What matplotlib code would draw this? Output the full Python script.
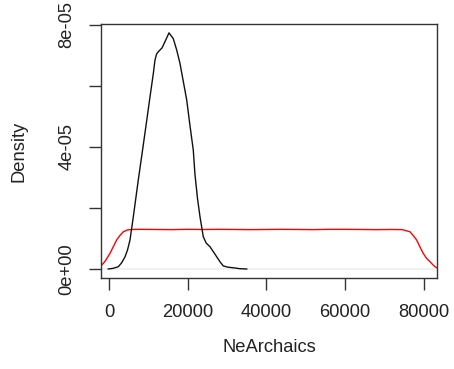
import matplotlib
matplotlib.use("Agg")
import matplotlib.pyplot as plt

# Black density curve (posterior)
black_x = [-180, 1000, 2370, 3200, 4070, 4700, 5340, 6180, 7450, 8720, 9580, 10420,
           11260, 11690, 12100, 12530, 13500, 14400, 15250, 16340, 17200, 18040, 19750,
           20580, 21420, 21850, 22500, 23130, 23960, 24700, 25660, 26500, 27370, 28300,
           29050, 30200, 31590, 33300, 35000]
black_y = [0.0, 0.02e-5, 0.075e-5, 0.2e-5, 0.4e-5, 0.62e-5, 0.95e-5, 1.71e-5, 2.92e-5,
           4.07e-5, 4.86e-5, 5.64e-5, 6.4e-5, 6.85e-5, 7.05e-5, 7.12e-5, 7.25e-5, 7.5e-5,
           7.74e-5, 7.55e-5, 7.18e-5, 6.74e-5, 5.54e-5, 4.7e-5, 3.9e-5, 3.1e-5, 2.3e-5,
           1.71e-5, 1.06e-5, 0.85e-5, 0.73e-5, 0.57e-5, 0.4e-5, 0.22e-5, 0.1e-5, 0.06e-5,
           0.04e-5, 0.01e-5, 0.0]

# Red density curve (prior)
red_x = [-2030, -1000, 250, 1100, 1950, 2800, 3640, 4700, 5770, 8000, 12000, 16000,
         20000, 24000, 28000, 32000, 36000, 40000, 44000, 48000, 52000, 56000, 60000,
         64000, 68000, 72000, 74500, 76490, 77300, 78190, 79000, 79870, 80700, 81570,
         82300, 82840, 83350]
red_y = [0.1e-5, 0.25e-5, 0.51e-5, 0.73e-5, 0.95e-5, 1.1e-5, 1.22e-5, 1.28e-5, 1.295e-5,
         1.3e-5, 1.295e-5, 1.29e-5, 1.3e-5, 1.295e-5, 1.3e-5, 1.295e-5, 1.29e-5, 1.295e-5,
         1.3e-5, 1.295e-5, 1.29e-5, 1.3e-5, 1.3e-5, 1.295e-5, 1.29e-5, 1.295e-5, 1.29e-5,
         1.22e-5, 1.1e-5, 0.95e-5, 0.73e-5, 0.51e-5, 0.35e-5, 0.24e-5, 0.14e-5, 0.075e-5,
         0.04e-5]

x_ticks = [0, 20000, 40000, 60000, 80000]
x_tick_labels = ["0", "20000", "40000", "60000", "80000"]
y_ticks = [0, 2e-5, 4e-5, 6e-5, 8e-5]
y_tick_labels = ["0e+00", "", "4e-05", "", "8e-05"]

plt.rcParams["font.family"] = ["Liberation Sans", "DejaVu Sans"]
fig = plt.figure(figsize=(4.54, 3.69), dpi=100)
ax = fig.add_axes([101/454, 1 - 278/369, (437-101)/454, (278-24)/369])

ax.axhline(0, color="#bebebe", lw=0.3, zorder=1)
ax.plot(black_x, black_y, color="#111111", lw=1.0, zorder=3)
ax.plot(red_x, red_y, color="#ff0000", lw=1.0, zorder=2)

ax.set_xlim(-2030, 83355)
ax.set_ylim(-2.95e-6, 8.03e-5)

ax.set_xticks(x_ticks)
ax.set_xticklabels(x_tick_labels)
ax.set_yticks(y_ticks)
ax.set_yticklabels(y_tick_labels, rotation=90, va="center")

ax.tick_params(axis="both", direction="out", length=8.5, width=1.0, color="#333333",
               labelsize=13.2, pad=10, labelcolor="#222222")
for s in ax.spines.values():
    s.set_color("#333333")
    s.set_linewidth(1.0)

ax.set_xlabel("NeArchaics", fontsize=13.2, labelpad=13, color="#222222")
ax.set_ylabel("Density", fontsize=13.2, labelpad=22, color="#222222")

fig.savefig("out.png", dpi=100)
